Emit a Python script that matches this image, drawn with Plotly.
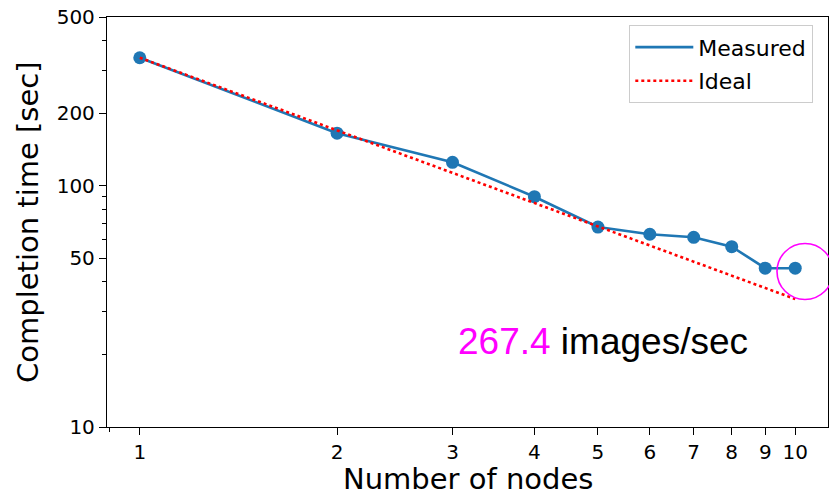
import math
import plotly.graph_objects as go

nodes = [1, 2, 3, 4, 5, 6, 7, 8, 9, 10]
measured = [339, 165, 125, 90, 67.4, 62.9, 61.1, 55.9, 45.5, 45.5]
ideal = [measured[0] / n for n in nodes]

y_tick_vals = [10, 50, 100, 200, 500]
y_tick_text = ["10", "50", "100", "200", "500"]
y_minor_vals = [20, 30, 40, 60, 70, 80, 90, 300, 400]
x_tick_vals = nodes
x_tick_text = [str(n) for n in nodes]
x_minor_vals = [0.9]

throughput = "267.4"
BLUE = "#1f77b4"
MAGENTA = "#ff00ff"

# plot area in pixels (fixed margins)
W, H = 829, 494
L, R, T, B = 107, 1, 17, 67
PW, PH = W - L - R, H - T - B

def px_to_paper(px, py):
    return (px - L) / PW, (H - B - py) / PH

fig = go.Figure()
fig.add_trace(go.Scatter(
    x=nodes, y=measured, mode="lines", name="Measured", legendgroup="a",
    line=dict(color=BLUE, width=2.6),
))
fig.add_trace(go.Scatter(
    x=nodes, y=measured, mode="markers", showlegend=False, legendgroup="a",
    marker=dict(color=BLUE, size=13),
))
fig.add_trace(go.Scatter(
    x=nodes, y=ideal, mode="lines", name="Ideal", legendgroup="b",
    line=dict(color="#ff0000", width=2.6, dash="dot"),
))

axis_common = dict(
    showline=True, linecolor="black", linewidth=1.3, mirror=True,
    ticks="outside", ticklen=7, tickwidth=1.3, tickcolor="black",
    showgrid=False, zeroline=False, automargin=False,
    tickfont=dict(family="DejaVu Sans", size=20, color="black"),
)

fig.update_xaxes(
    type="log", range=[-0.05, 1.05],
    tickmode="array", tickvals=x_tick_vals, ticktext=x_tick_text,
    minor=dict(tickvals=x_minor_vals, ticks="outside", ticklen=4, tickwidth=1, tickcolor="black"),
    **axis_common,
)
fig.update_yaxes(
    type="log", range=[1, math.log10(500)],
    tickmode="array", tickvals=y_tick_vals, ticktext=y_tick_text,
    minor=dict(tickvals=y_minor_vals, ticks="outside", ticklen=4, tickwidth=1, tickcolor="black"),
    **axis_common,
)

# axis titles
xt_x, xt_y = px_to_paper(468, 479)
fig.add_annotation(
    xref="paper", yref="paper", x=xt_x, y=xt_y, xanchor="center", yanchor="middle",
    showarrow=False, text="Number of nodes",
    font=dict(family="DejaVu Sans", size=29, color="black"),
)
yt_x, yt_y = px_to_paper(28, 222)
fig.add_annotation(
    xref="paper", yref="paper", x=yt_x, y=yt_y, xanchor="center", yanchor="middle",
    showarrow=False, text="Completion time [sec]", textangle=-90,
    font=dict(family="DejaVu Sans", size=29, color="black"),
)

ax, ay = px_to_paper(602.5, 341)
fig.add_annotation(
    xref="paper", yref="paper", x=ax, y=ay,
    xanchor="center", yanchor="middle", showarrow=False,
    text=f"<span style='color:{MAGENTA}'>{throughput}</span> images/sec",
    font=dict(family="Liberation Sans", size=37, color="black"),
)

cx0, cy0 = px_to_paper(777, 299.5)
cx1, cy1 = px_to_paper(833, 243.5)
fig.add_shape(
    type="circle", xref="paper", yref="paper",
    x0=cx0, x1=cx1, y0=cy0, y1=cy1,
    line=dict(color=MAGENTA, width=1.6),
)

lx, ly = px_to_paper(629, 25)
fig.update_layout(
    width=W, height=H,
    margin=dict(l=L, r=R, t=T, b=B),
    plot_bgcolor="white", paper_bgcolor="white",
    font=dict(family="DejaVu Sans", color="black"),
    legend=dict(
        x=lx, y=ly, xanchor="left", yanchor="top",
        bordercolor="#cccccc", borderwidth=1.3, bgcolor="white",
        font=dict(family="DejaVu Sans", size=22, color="black"),
        tracegroupgap=2, traceorder="grouped", itemwidth=58,
    ),
    showlegend=True,
)

fig.write_html(
    "out.html",
    config={"displayModeBar": False},
    post_script="document.body.style.margin='0';document.body.style.padding='0';",
)
